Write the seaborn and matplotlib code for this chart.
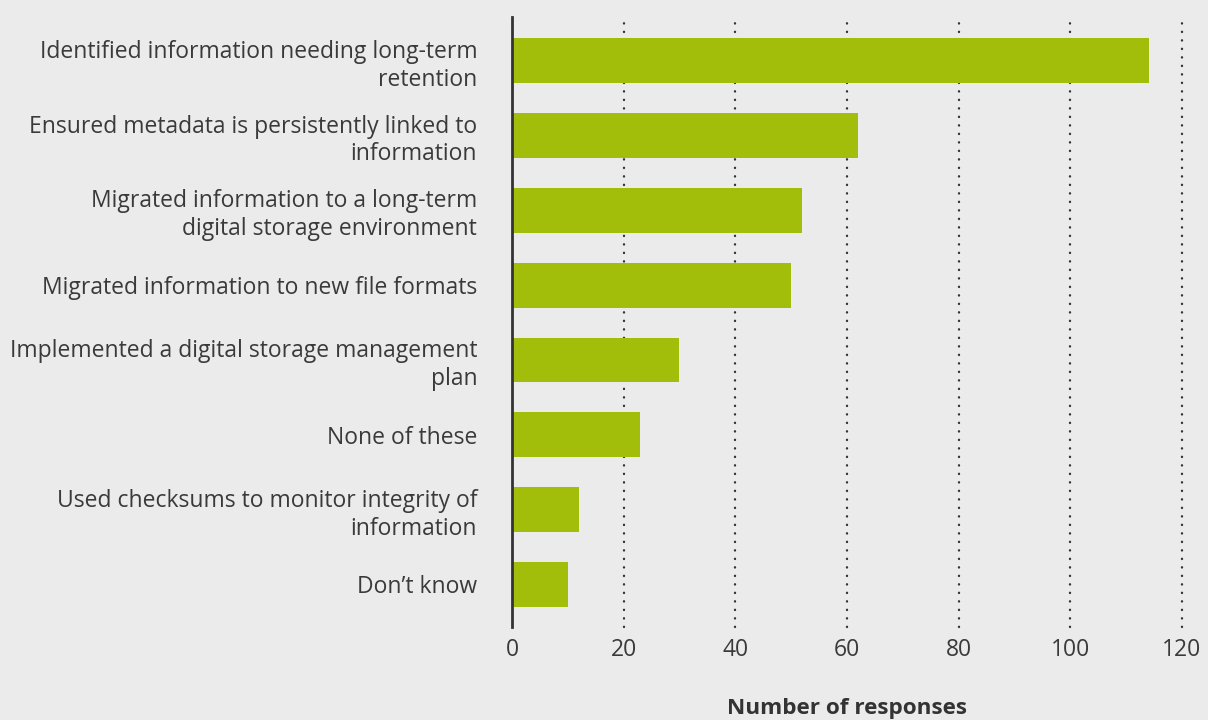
import matplotlib
matplotlib.use("Agg")
import matplotlib.pyplot as plt
import seaborn as sns
import pandas as pd

# Survey: preservation actions taken
actions = [
    "Identified information needing long-term\nretention",
    "Ensured metadata is persistently linked to\ninformation",
    "Migrated information to a long-term\ndigital storage environment",
    "Migrated information to new file formats",
    "Implemented a digital storage management\nplan",
    "None of these",
    "Used checksums to monitor integrity of\ninformation",
    "Don\u2019t know",
]
responses = [114, 62, 52, 50, 30, 23, 12, 10]
x_ticks = [0, 20, 40, 60, 80, 100, 120]

BG = "#ebebeb"
BAR = "#a3bd0b"
INK = "#333333"
LABEL = "#3a3a3a"

sns.set_theme(style="white")
plt.rcParams["font.family"] = ["Open Sans", "DejaVu Sans"]

df = pd.DataFrame({"action": actions, "responses": responses})

fig = plt.figure(figsize=(12.08, 7.2), dpi=100, facecolor=BG)
ax = fig.add_axes([0.4238, 0.129, 0.9785 - 0.4238, 0.847])
ax.set_facecolor(BG)

sns.barplot(data=df, x="responses", y="action", color=BAR, width=0.6,
            saturation=1, linewidth=0, edgecolor=BAR, ax=ax, zorder=3)

# dotted vertical gridlines behind the bars
for t in x_ticks[1:]:
    ax.axvline(t, color=INK, lw=1.7, linestyle=(0, (0.1, 3.5)),
               dash_capstyle="round", zorder=1, clip_on=False)

ax.set_xlim(0, 120)
ax.set_ylim(7.57, -0.58)
ax.set_xticks(x_ticks)
ax.set_xticklabels([str(t) for t in x_ticks])

for side in ["top", "right", "bottom"]:
    ax.spines[side].set_visible(False)
ax.spines["left"].set_color(INK)
ax.spines["left"].set_linewidth(2.0)
ax.spines["left"].set_zorder(4)

ax.tick_params(axis="both", length=0, colors=LABEL, labelsize=16.5)
ax.tick_params(axis="y", pad=25)
ax.tick_params(axis="x", pad=8)
for lbl in ax.get_yticklabels():
    lbl.set_linespacing(1.22)
    lbl.set_ha("right")
    lbl.set_multialignment("right")

ax.set_ylabel("")
ax.set_xlabel("Number of responses", fontsize=16.2, fontweight="bold",
              color=INK, labelpad=26)

fig.savefig("out.png", dpi=100, facecolor=BG)
